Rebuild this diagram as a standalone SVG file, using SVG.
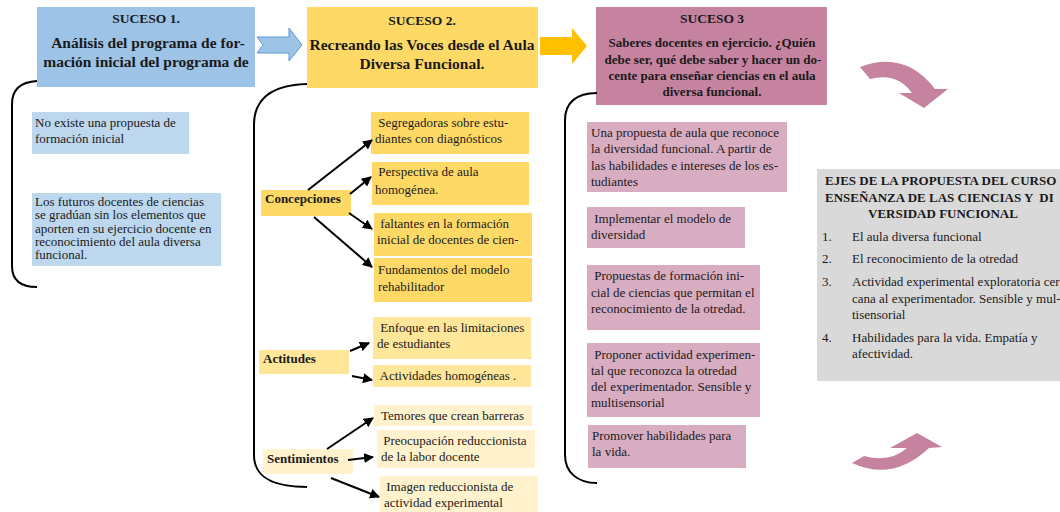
<svg xmlns="http://www.w3.org/2000/svg" width="1060" height="512" viewBox="0 0 1060 512" xml:space="preserve">
<style>
text{font-family:"Liberation Serif","Times New Roman",serif;fill:#1a1a1a;white-space:pre}
.t{font-size:13px}
.b{font-weight:bold}
.h{font-size:13.5px;font-weight:bold}
.ht{font-size:15.5px;font-weight:bold}
.m{text-anchor:middle}
.brace{fill:none;stroke:#000;stroke-width:2}
.con{fill:none;stroke:#000;stroke-width:2;marker-end:url(#ah)}
.s1{fill:#9DC3E6}.s1b{fill:#BDD7EE}
.s2{fill:#FFD966}.s2b{fill:#FFE699}.s2c{fill:#FFF2CC}
.s3{fill:#C5839F}.s3b{fill:#D8ADC2}
.g{fill:#D9D9D9}
.pk{fill:#C5839F}
</style>
<defs>
<marker id="ah" viewBox="0 0 10 10" refX="9" refY="5" markerWidth="5" markerHeight="5" orient="auto" markerUnits="strokeWidth">
<path d="M0,0 L10,5 L0,10 Z" fill="#000"/>
</marker>
</defs>
<rect width="1060" height="512" fill="#fff"/>

<g id="suceso1">
<rect class="s1" x="37" y="7" width="218" height="80"/>
<text class="h m" x="146" y="23">SUCESO 1.</text>
<text class="ht m" x="148" y="48">Análisis del programa de for-</text>
<text class="ht m" x="146" y="67">mación inicial del programa de</text>
</g>
<g id="s1-a">
<rect class="s1b" x="32" y="112" width="157" height="42"/>
<text class="t" x="35" y="127">No existe una propuesta de</text>
<text class="t" x="35" y="143">formación inicial</text>
</g>
<g id="s1-b">
<rect class="s1b" x="32" y="193" width="189" height="73"/>
<text class="t" x="35" y="206">Los futuros docentes de ciencias</text>
<text class="t" x="35" y="219">se gradúan sin los elementos que</text>
<text class="t" x="35" y="233">aporten en su ejercicio docente en</text>
<text class="t" x="35" y="246">reconocimiento del aula diversa</text>
<text class="t" x="35" y="259">funcional.</text>
</g>

<g id="arrow-blue">
<path d="M257,37 L289,37 L289,28 L302,45 L289,61 L289,53 L257,53 L263,45 Z" fill="#9DC3E6" stroke="#5B9BD5" stroke-width="1"/>
</g>

<g id="suceso2">
<rect class="s2" x="307" y="7" width="231" height="81"/>
<text class="h m" x="422" y="25">SUCESO 2.</text>
<text class="ht m" x="422" y="50">Recreando las Voces desde el Aula</text>
<text class="ht m" x="422" y="69">Diversa Funcional.</text>
</g>

<g id="arrow-orange">
<path d="M540,37 L572,37 L572,28 L587,46 L572,64 L572,55 L540,55 Z" fill="#FFC000"/>
</g>

<g id="concepciones">
<rect class="s2" x="261" y="190" width="90" height="26"/>
<text class="t b" x="265" y="203">Concepciones</text>
</g>
<g id="c1">
<rect class="s2" x="371" y="112" width="158" height="42"/>
<text class="t" x="375" y="127"> Segregadoras sobre estu-</text>
<text class="t" x="375" y="143">diantes con diagnósticos</text>
</g>
<g id="c2">
<rect class="s2" x="372" y="162" width="157" height="43"/>
<text class="t" x="375" y="176"> Perspectiva de aula</text>
<text class="t" x="375" y="194">homogénea.</text>
</g>
<g id="c3">
<rect class="s2" x="374" y="213" width="158" height="43"/>
<text class="t" x="377" y="228"> faltantes en la formación</text>
<text class="t" x="377" y="244">inicial de docentes de cien-</text>
</g>
<g id="c4">
<rect class="s2" x="374" y="258" width="158" height="44"/>
<text class="t" x="378" y="274">Fundamentos del modelo</text>
<text class="t" x="378" y="291">rehabilitador</text>
</g>

<g id="actitudes">
<rect class="s2b" x="259" y="350" width="90" height="24"/>
<text class="t b" x="263" y="363">Actitudes</text>
</g>
<g id="a1">
<rect class="s2b" x="373" y="317" width="158" height="42"/>
<text class="t" x="377" y="332"> Enfoque en las limitaciones</text>
<text class="t" x="377" y="348">de estudiantes</text>
</g>
<g id="a2">
<rect class="s2b" x="373" y="365" width="158" height="22"/>
<text class="t" x="377" y="380"> Actividades homogéneas .</text>
</g>

<g id="sentimientos">
<rect class="s2c" x="263" y="449" width="90" height="25"/>
<text class="t b" x="267" y="463">Sentimientos</text>
</g>
<g id="e1">
<rect class="s2c" x="374" y="405" width="158" height="21"/>
<text class="t" x="378" y="420"> Temores que crean barreras</text>
</g>
<g id="e2">
<rect class="s2c" x="377" y="430" width="158" height="38"/>
<text class="t" x="380" y="445"> Preocupación reduccionista</text>
<text class="t" x="381" y="461">de la labor docente</text>
</g>
<g id="e3">
<rect class="s2c" x="380" y="476" width="158" height="36"/>
<text class="t" x="383" y="491"> Imagen reduccionista de</text>
<text class="t" x="384" y="507">actividad experimental</text>
</g>

<g id="suceso3">
<rect class="s3" x="596" y="7" width="231" height="98"/>
<text class="h m" x="712" y="23">SUCESO 3</text>
<text class="t b m" x="712" y="47">Saberes docentes en ejercicio. ¿Quién</text>
<text class="t b m" x="713" y="64">debe ser, qué debe saber y hacer un do-</text>
<text class="t b m" x="712" y="80">cente para enseñar ciencias en el aula</text>
<text class="t b m" x="712" y="96">diversa funcional.</text>
</g>
<g id="p1">
<rect class="s3b" x="587" y="122" width="200" height="70"/>
<text class="t" x="591" y="137">Una propuesta de aula que reconoce</text>
<text class="t" x="591" y="153">la diversidad funcional. A partir de</text>
<text class="t" x="591" y="170">las habilidades e intereses de los es-</text>
<text class="t" x="591" y="186">tudiantes</text>
</g>
<g id="p2">
<rect class="s3b" x="587" y="207" width="158" height="41"/>
<text class="t" x="591" y="223"> Implementar el modelo de</text>
<text class="t" x="591" y="239">diversidad</text>
</g>
<g id="p3">
<rect class="s3b" x="587" y="265" width="173" height="65"/>
<text class="t" x="591" y="280"> Propuestas de formación ini-</text>
<text class="t" x="591" y="297">cial de ciencias que permitan el</text>
<text class="t" x="591" y="313">reconocimiento de la otredad.</text>
</g>
<g id="p4">
<rect class="s3b" x="587" y="343" width="173" height="74"/>
<text class="t" x="591" y="359"> Proponer actividad experimen-</text>
<text class="t" x="591" y="375">tal que reconozca la otredad</text>
<text class="t" x="591" y="391">del experimentador. Sensible y</text>
<text class="t" x="591" y="407">multisensorial</text>
</g>
<g id="p5">
<rect class="s3b" x="588" y="425" width="158" height="43"/>
<text class="t" x="592" y="440">Promover habilidades para</text>
<text class="t" x="592" y="456">la vida.</text>
</g>

<g id="ejes">
<rect class="g" x="817" y="169" width="250" height="212"/>
<text class="t b" x="825" y="185">EJES DE LA PROPUESTA DEL CURSO</text>
<text class="t b" x="825" y="202">ENSEÑANZA DE LAS CIENCIAS Y  DI</text>
<text class="t b" x="868" y="218">VERSIDAD FUNCIONAL</text>
<text class="t" x="822" y="241">1.</text><text class="t" x="852" y="241">El aula diversa funcional</text>
<text class="t" x="822" y="263">2.</text><text class="t" x="852" y="263">El reconocimiento de la otredad</text>
<text class="t" x="822" y="286">3.</text><text class="t" x="852" y="286">Actividad experimental exploratoria cer</text>
<text class="t" x="852" y="303">cana al experimentador. Sensible y mul-</text>
<text class="t" x="852" y="319">tisensorial</text>
<text class="t" x="822" y="342">4.</text><text class="t" x="852" y="342">Habilidades para la vida. Empatía y</text>
<text class="t" x="852" y="358">afectividad.</text>
</g>

<g id="curved-arrows">
<path class="pk" d="M860,67 Q905,50 935,89 L948,89 L924,108 L899,93 L912,93 Q897,72 870,79 Z"/>
<path class="pk" d="M852,463 Q893,482 929,448 L942,447 L917,433 L890,448 L907,448 Q890,463 864,456 Z"/>
</g>

<g id="connectors">
<path class="brace" d="M37,81 C20,82 12,90 12,104 L12,266 C12,280 20,287 37,287"/>
<path class="brace" d="M307,84 C272,85 254,98 254,125 L254,455 C254,476 270,487 307,487"/>
<path class="brace" d="M597,93 C576,93 565,103 565,120 L565,455 C565,472 577,483 597,483"/>
<path class="con" d="M308,190 L372,140"/>
<path class="con" d="M350,194 L371,177"/>
<path class="con" d="M349,213 L372,229"/>
<path class="con" d="M314,217 L372,267"/>
<path class="con" d="M350,351 L369,343"/>
<path class="con" d="M352,376 L372,380"/>
<path class="con" d="M327,449 L373,418"/>
<path class="con" d="M348,460 L373,457"/>
<path class="con" d="M331,478 L379,497"/>
</g>
</svg>
